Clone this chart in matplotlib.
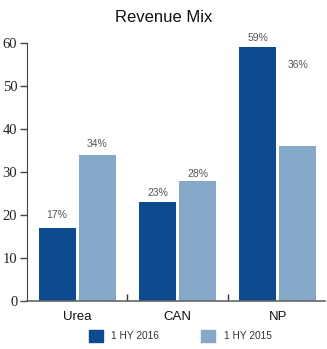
import matplotlib
matplotlib.use("Agg")
import matplotlib.pyplot as plt
import numpy as np
from matplotlib.patches import Patch

categories = ["Urea", "CAN", "NP"]
hy2016 = [17, 23, 59]
hy2015 = [34, 28, 36]
labels2016 = ["17%", "23%", "59%"]
labels2015 = ["34%", "28%", "36%"]
yticks = [0, 10, 20, 30, 40, 50, 60]

# label placement offsets above bar tops (style)
off2016 = [3.0, 2.1, 2.2]
off2015 = [2.5, 1.5, 19.0]

dark = "#0d4a8f"
light = "#86a8c9"

fig = plt.figure(figsize=(3.27, 3.49), dpi=100)
ax = fig.add_axes([27/327, 48/349, 298/327, 258/349])

x = np.arange(len(categories))
w = 0.37
ax.bar(x - 0.2, hy2016, width=w, color=dark)
ax.bar(x + 0.2, hy2015, width=w, color=light)

for i in range(len(categories)):
    ax.text(x[i] - 0.2, hy2016[i] + off2016[i], labels2016[i], ha="center", va="center",
            fontsize=7.5, color="#555555", family="Liberation Sans")
    ax.text(x[i] + 0.2, hy2015[i] + off2015[i], labels2015[i], ha="center", va="center",
            fontsize=7.5, color="#555555", family="Liberation Sans")

ax.set_xlim(-0.5, 2.47)
ax.set_ylim(0, 60)
ax.set_yticks(yticks)
ax.set_yticklabels([str(t) for t in yticks], family="Liberation Serif", fontsize=10.5, color="#222222")
ax.set_xticks(x)
ax.set_xticklabels(categories, family="Liberation Sans", fontsize=9.5, color="#111111")
ax.tick_params(axis="x", length=0, pad=7)
ax.set_xticks([0.5, 1.5], minor=True)
ax.tick_params(axis="x", which="minor", direction="in", length=5, color="#333333", width=1)
ax.tick_params(axis="y", length=5, color="#444444", width=1, pad=2)

for s in ["top", "right"]:
    ax.spines[s].set_visible(False)
ax.spines["left"].set_color("#444444")
ax.spines["bottom"].set_color("#666666")
ax.spines["bottom"].set_linewidth(1.2)

fig.text(0.5, 1 - 17/349, "Revenue Mix", ha="center", va="center", fontsize=12,
         family="Liberation Sans", color="#111111")

handles = [Patch(color=dark, label="1 HY 2016"), Patch(color=light, label="1 HY 2015")]
fig.legend(handles=handles, loc="center", bbox_to_anchor=(180/327, 1 - 336/349), ncol=2,
           frameon=False, prop={"family": "Liberation Sans", "size": 7.3},
           handlelength=1.4, handleheight=1.4, columnspacing=4.2, handletextpad=0.8,
           labelcolor="#333333")

fig.savefig("out.png", dpi=100)
